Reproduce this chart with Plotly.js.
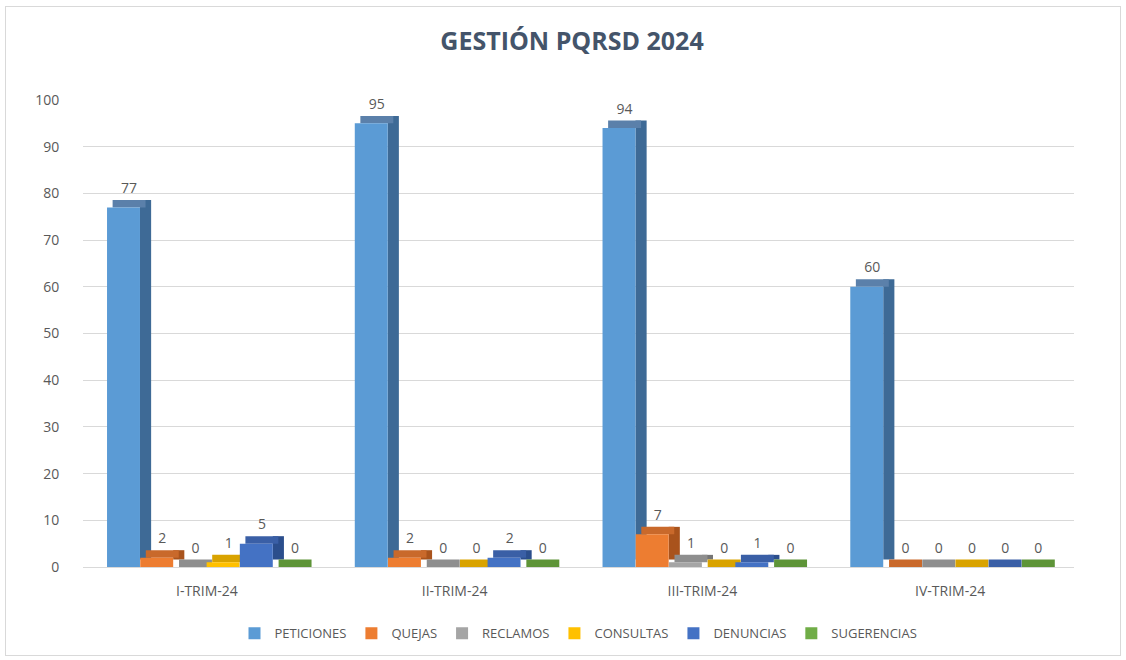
<!DOCTYPE html>
<html>
<head>
<meta charset="utf-8">
<script src="https://cdn.plot.ly/plotly-3.0.1.min.js"></script>
<style>
html,body{margin:0;padding:0;background:#fff;}
#wrap{position:relative;width:1126px;height:660px;}
#chart{width:1126px;height:660px;}
#frame{position:absolute;left:5px;top:6px;right:5px;bottom:4px;border:1px solid #D9D9D9;pointer-events:none;}
</style>
</head>
<body>
<div id="wrap"><div id="chart"></div><div id="frame"></div></div>
<script>
var categories = ["I-TRIM-24", "II-TRIM-24", "III-TRIM-24", "IV-TRIM-24"];
var seriesNames = ["PETICIONES", "QUEJAS", "RECLAMOS", "CONSULTAS", "DENUNCIAS", "SUGERENCIAS"];
var peticiones = [77, 95, 94, 60];
var quejas = [2, 2, 7, 0];
var reclamos = [0, 0, 1, 0];
var consultas = [1, 0, 0, 0];
var denuncias = [5, 2, 1, 0];
var sugerencias = [0, 0, 0, 0];
var yTicks = [0, 10, 20, 30, 40, 50, 60, 70, 80, 90, 100];

var seriesValues = [peticiones, quejas, reclamos, consultas, denuncias, sugerencias];
var frontColors = ["#5B9BD5", "#ED7D31", "#A5A5A5", "#FFC000", "#4472C4", "#70AD47"];
var sideColors  = ["#3E6A96", "#A9531C", "#757575", "#B98A00", "#2B4E8C", "#4B7A2E"];
var topColors   = ["#5B80AA", "#C9692B", "#8E8E8E", "#D9A300", "#3A5FA6", "#5E9438"];

var W = 0.133, D = 0.045, H = 1.6, start = -0.403, step = 0.134;
var xIdx = categories.map(function(c, i){ return i; });
var traces = [];
seriesValues.forEach(function(vals, s){
  var off = start + s * step;
  // side face
  traces.push({type:'bar', x:xIdx, y:vals, base:H, offset:off + W, width:D,
    marker:{color:sideColors[s]}, showlegend:false, hoverinfo:'skip'});
  // top face
  traces.push({type:'bar', x:xIdx, y:vals.map(function(){return H;}), base:vals,
    offset:off + D*0.5, width:W, marker:{color:topColors[s]},
    text:vals.map(String), textposition:'outside', cliponaxis:false,
    textfont:{family:'Open Sans, sans-serif', size:14, color:'#595959'},
    showlegend:false, hoverinfo:'skip'});
  // front face
  traces.push({type:'bar', x:xIdx, y:vals, name:seriesNames[s], offset:off, width:W,
    marker:{color:frontColors[s]}, legendrank:s});
});

var layout = {
  width:1126, height:660,
  margin:{l:83, r:52, t:100, b:91},
  paper_bgcolor:'#FFFFFF', plot_bgcolor:'#FFFFFF',
  barmode:'overlay',
  title:{text:'<b>GESTIÓN PQRSD 2024</b>', x:0.508, xanchor:'center', y:0.937, yanchor:'middle',
    font:{family:'Open Sans, sans-serif', size:25, color:'#44546A'}},
  font:{family:'Open Sans, sans-serif', color:'#595959'},
  xaxis:{type:'linear', range:[-0.5, 3.5], tickmode:'array', tickvals:xIdx, ticktext:categories,
    showgrid:false, zeroline:false, showline:true, linecolor:'#D9D9D9', linewidth:1,
    ticks:'outside', ticklen:11, tickcolor:'rgba(0,0,0,0)',
    tickfont:{family:'Open Sans, sans-serif', size:14, color:'#595959'}},
  yaxis:{range:[0, 100], tickmode:'array', tickvals:yTicks, showgrid:true, gridcolor:'#D9D9D9',
    zeroline:false, showline:false, ticks:'outside', ticklen:20, tickcolor:'rgba(0,0,0,0)',
    tickfont:{family:'Open Sans, sans-serif', size:14, color:'#595959'}},
  legend:{orientation:'h', x:0.5, xanchor:'center', y:-0.142, yanchor:'middle',
    font:{family:'Open Sans, sans-serif', size:13, color:'#595959'}, itemwidth:30,
    traceorder:'normal'},
  showlegend:true
};
Plotly.newPlot('chart', traces, layout, {displayModeBar:false, staticPlot:true});
</script>
</body>
</html>
